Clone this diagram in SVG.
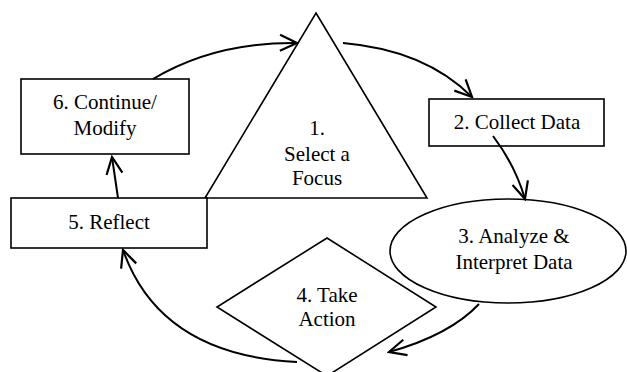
<svg xmlns="http://www.w3.org/2000/svg" width="627" height="372" viewBox="0 0 627 372">
<style>
.shape{fill:#fff;stroke:#000;stroke-width:1.6}
.conn{fill:none;stroke:#000;stroke-width:2}
.t{font-family:'Liberation Serif','Times New Roman',Tinos,'DejaVu Serif',serif;font-size:21px;fill:#000;text-anchor:middle}
</style>
<defs>
<marker id="arr" viewBox="-20 -10 22 20" markerWidth="22" markerHeight="20" refX="0" refY="0" orient="auto" markerUnits="userSpaceOnUse">
<path d="M-17,-8 L0,0 L-17,8" fill="none" stroke="#000" stroke-width="2.2"/>
</marker>
</defs>
<g id="node1">
<polygon class="shape" points="316,13 427,198 205,198"/>
<text class="t" x="317" y="135">1.</text>
<text class="t" x="317" y="161">Select a</text>
<text class="t" x="317" y="185">Focus</text>
</g>
<g id="node2">
<rect class="shape" x="429" y="99" width="175" height="47"/>
<text class="t" x="517" y="129">2. Collect Data</text>
</g>
<g id="node3">
<ellipse class="shape" cx="508" cy="251" rx="118" ry="52"/>
<text class="t" x="514" y="243">3. Analyze &amp;</text>
<text class="t" x="514" y="269">Interpret Data</text>
</g>
<g id="node4">
<polygon class="shape" points="327,238 436,307 327,376 217,307"/>
<text class="t" x="327" y="302">4. Take</text>
<text class="t" x="327" y="326">Action</text>
</g>
<g id="node5">
<rect class="shape" x="11" y="198" width="196" height="50"/>
<text class="t" x="109" y="229">5. Reflect</text>
</g>
<g id="node6">
<rect class="shape" x="21" y="79" width="168" height="75"/>
<text class="t" x="105" y="109">6. Continue/</text>
<text class="t" x="105" y="135">Modify</text>
</g>
<g id="connectors">
<path class="conn" d="M153,79 Q215,42 297,43" marker-end="url(#arr)"/>
<path class="conn" d="M343,43 Q425,50 472,97" marker-end="url(#arr)"/>
<path class="conn" d="M493,136 Q515,165 525,199" marker-end="url(#arr)"/>
<path class="conn" d="M479,304 Q450,335 389,352" marker-end="url(#arr)"/>
<path class="conn" d="M297,362 Q160,355 123,250" marker-end="url(#arr)"/>
<path class="conn" d="M118,198 L112,157" marker-end="url(#arr)"/>
</g>
</svg>
